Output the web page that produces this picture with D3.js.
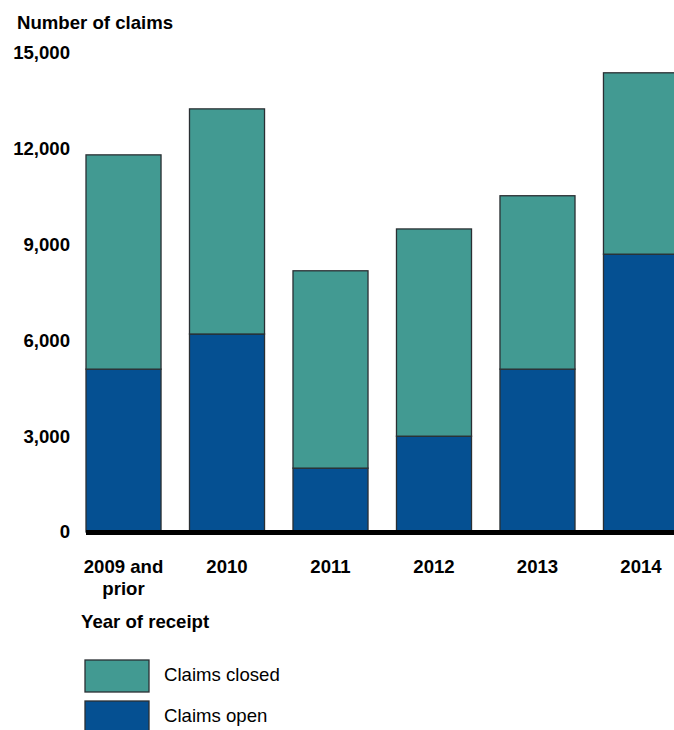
<!DOCTYPE html>
<html>
<head>
<meta charset="utf-8">
<script src="https://cdn.jsdelivr.net/npm/d3@7"></script>
<style>
  html, body { margin: 0; padding: 0; background: #fff; }
  svg { display: block; font-family: "Liberation Sans", Arial, sans-serif; }
</style>
</head>
<body>
<svg id="chart" width="674" height="730"></svg>
<script>
const categories = ["2009 and prior", "2010", "2011", "2012", "2013", "2014"];
const claimsOpen = [5100, 6200, 2000, 3000, 5100, 8700];
const claimsClosed = [6710, 7050, 6180, 6490, 5430, 5680];
const yTicks = [0, 3000, 6000, 9000, 12000, 15000];
const seriesNames = ["Claims closed", "Claims open"];
const colors = { "Claims closed": "#429a92", "Claims open": "#055092" };

const FS = 18.6;
const svg = d3.select("#chart");

const x = d3.scaleBand()
  .domain(categories)
  .range([86, 678.5])
  .paddingInner(0.275)
  .paddingOuter(0);

const y = d3.scaleLinear().domain([0, 15000]).range([532, 53]);

const rows = categories.map((c, i) => ({ cat: c, open: claimsOpen[i], closed: claimsClosed[i] }));
const stack = d3.stack().keys(["open", "closed"]);
const stacked = stack(rows);
const keyName = { open: "Claims open", closed: "Claims closed" };

// bars
stacked.forEach(layer => {
  svg.append("g")
    .selectAll("rect")
    .data(layer)
    .join("rect")
    .attr("x", d => x(d.data.cat))
    .attr("y", d => y(d[1]))
    .attr("width", x.bandwidth())
    .attr("height", d => y(d[0]) - y(d[1]))
    .attr("fill", colors[keyName[layer.key]])
    .attr("stroke", "#2a2f33")
    .attr("stroke-width", 1.3);
});

// baseline
svg.append("line")
  .attr("x1", x(categories[0]))
  .attr("x2", 674)
  .attr("y1", y(0) + 0.5)
  .attr("y2", y(0) + 0.5)
  .attr("stroke", "#000")
  .attr("stroke-width", 5);

// y axis tick labels
const yAxis = d3.axisLeft(y)
  .tickValues(yTicks)
  .tickFormat(d3.format(","))
  .tickSize(0)
  .tickPadding(0);
const gy = svg.append("g").attr("transform", "translate(70,0)").call(yAxis);
gy.select(".domain").remove();
gy.selectAll("text")
  .attr("font-size", FS)
  .attr("font-weight", "bold")
  .attr("fill", "#000")
  .attr("font-family", "Liberation Sans, Arial, sans-serif");

// x axis labels
const xAxis = d3.axisBottom(x).tickSize(0).tickPadding(0).tickFormat("");
const gx = svg.append("g").attr("transform", `translate(0,${y(0)})`).call(xAxis);
gx.select(".domain").remove();
gx.selectAll(".tick").each(function(d) {
  const t = d3.select(this).append("text")
    .attr("text-anchor", "middle")
    .attr("font-size", FS)
    .attr("font-weight", "bold")
    .attr("fill", "#000")
    .attr("font-family", "Liberation Sans, Arial, sans-serif");
  const lines = d === "2009 and prior" ? ["2009 and", "prior"] : [d];
  lines.forEach((ln, i) => {
    t.append("tspan").attr("x", 0).attr("y", 41 + i * 22).text(ln);
  });
});

// y title
svg.append("text")
  .attr("x", 17).attr("y", 29)
  .attr("font-size", FS).attr("font-weight", "bold")
  .text("Number of claims");

// x title
svg.append("text")
  .attr("x", 81).attr("y", 628)
  .attr("font-size", FS).attr("font-weight", "bold")
  .text("Year of receipt");

// legend
const legend = svg.append("g");
seriesNames.forEach((name, i) => {
  const g = legend.append("g").attr("transform", `translate(85,${660 + i * 41})`);
  g.append("rect")
    .attr("x", 0).attr("y", 0)
    .attr("width", 64).attr("height", 32)
    .attr("fill", colors[name])
    .attr("stroke", "#2a2f33").attr("stroke-width", 1.3);
  g.append("text")
    .attr("x", 79).attr("y", 21)
    .attr("font-size", FS)
    .attr("fill", "#000")
    .text(name);
});
</script>
</body>
</html>
